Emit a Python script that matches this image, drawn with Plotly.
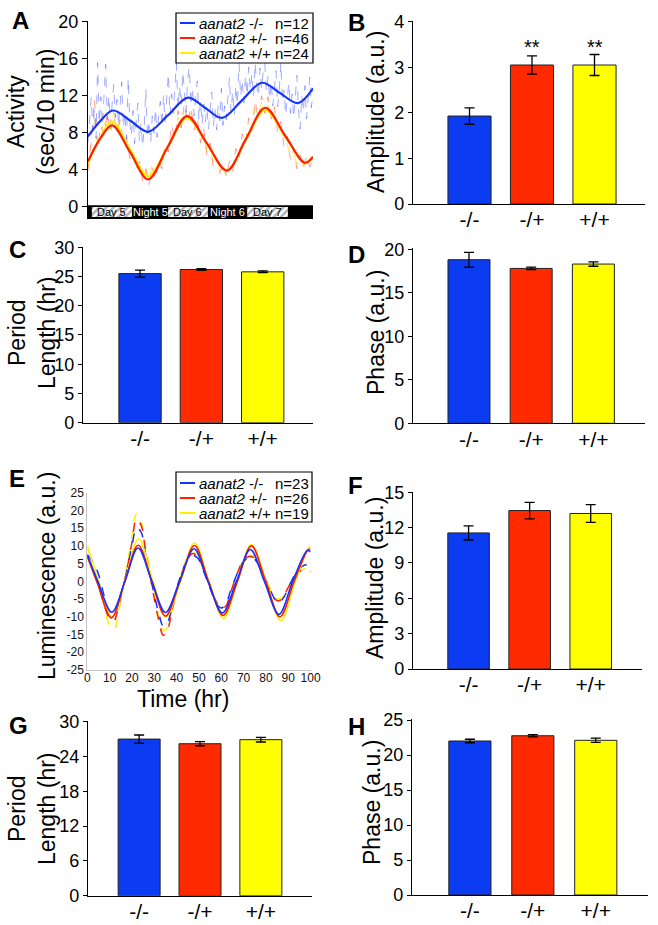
import plotly.graph_objects as go

W, H = 658, 925
FONT = "Liberation Sans, Arial, Helvetica, sans-serif"

# ---------------- Panel A: locomotor activity ----------------
a_fit_blue_t = [0, 3.9, 7.8, 13.2, 18.7, 24.9, 31.1, 36.4, 41.7, 47.9, 54.1, 59.7, 65.3, 70]
a_fit_blue_v = [7.6, 9.3, 10.4, 9.3, 8.1, 9.9, 11.8, 10.7, 9.6, 11.5, 13.4, 12.3, 11.2, 12.8]
a_fit_red_t = [0, 3.7, 7.5, 13.1, 18.7, 24.7, 30.8, 37.0, 43.2, 49.1, 55.1, 61.3, 67.5, 70]
a_fit_red_v = [4.9, 7.3, 8.8, 5.9, 2.95, 6.4, 9.8, 6.85, 3.9, 7.3, 10.7, 7.7, 4.75, 5.4]
a_fit_yel_t = [0, 3.7, 7.5, 13.1, 18.7, 24.7, 30.8, 37.0, 43.2, 49.1, 55.1, 61.3, 67.5, 70]
a_fit_yel_v = [4.7, 7.4, 9.2, 6.2, 3.3, 6.4, 9.6, 6.8, 3.9, 7.2, 10.5, 7.6, 4.8, 5.3]

a_raw_blue = [7.0, 9.5, 11.8, 8.2, 10.5, 7.4, 15.6, 9.0, 11.9, 8.8, 12.6, 15.4, 9.4, 12.0, 8.9, 11.3,
              13.2, 9.6, 11.6, 8.7, 10.9, 13.5, 8.5, 10.2, 7.3, 13.9, 9.1, 7.6, 10.4, 6.8, 9.2, 11.2,
              7.1, 9.0, 6.5, 8.7, 12.7, 7.4, 9.3, 6.9, 9.8, 8.0, 10.6, 7.5, 9.9, 11.4, 8.6, 12.1,
              9.2, 11.6, 14.4, 9.9, 12.2, 10.1, 13.3, 15.5, 10.6, 13.1, 11.0, 14.6, 12.3, 10.2, 13.8, 15.1,
              10.9, 12.9, 9.8, 12.1, 13.6, 9.4, 11.5, 8.9, 11.1, 9.2, 10.7, 8.4, 10.3, 12.4, 8.7, 10.6,
              8.3, 11.0, 9.3, 12.8, 8.8, 10.9, 9.4, 11.7, 14.0, 10.2, 12.5, 9.9, 13.1, 11.0, 15.5, 11.9,
              13.7, 11.2, 14.2, 12.0, 15.1, 12.6, 14.4, 11.8, 15.6, 13.2, 11.9, 15.0, 12.7, 14.6, 15.5, 12.4,
              14.1, 11.6, 13.5, 10.9, 12.9, 14.7, 10.8, 12.5, 15.6, 11.3, 12.6, 9.9, 11.8, 13.4, 10.1, 12.2,
              9.6, 11.5, 14.2, 10.4, 8.4, 12.0, 10.3, 13.1, 9.5, 11.8, 14.0, 10.7, 12.5]
a_raw_red = [3.9, 7.2, 11.6, 6.4, 8.8, 7.7, 10.1, 8.0, 9.9, 8.1, 9.4, 6.8, 7.5, 5.2, 6.0, 4.0, 4.9, 2.8,
             4.1, 2.4, 4.2, 3.0, 5.2, 4.1, 6.8, 5.9, 8.9, 7.3, 10.4, 8.5, 11.2, 9.0, 10.8, 8.3, 9.7, 6.9,
             8.4, 5.6, 6.9, 4.2, 5.3, 3.6, 4.8, 3.2, 4.9, 3.8, 6.3, 5.2, 7.9, 6.8, 9.6, 8.2, 11.5, 9.4,
             12.0, 10.1, 11.9, 9.5, 10.8, 8.1, 9.2, 6.4, 7.6, 5.0, 6.3, 4.1, 5.6, 4.2, 5.5, 4.3, 5.0]
a_raw_yel = [4.2, 6.5, 9.7, 7.0, 8.2, 8.9, 9.6, 8.4, 10.2, 8.6, 9.1, 7.3, 6.9, 5.8, 5.6, 4.3, 4.5, 3.4,
             3.8, 2.9, 4.6, 3.5, 4.8, 4.6, 6.1, 6.5, 8.0, 7.6, 9.7, 8.6, 10.5, 9.2, 10.1, 8.7, 9.0, 7.2,
             7.9, 5.9, 6.2, 4.7, 4.9, 3.8, 4.4, 3.5, 4.7, 4.3, 5.8, 5.6, 7.2, 7.1, 8.9, 8.6, 10.6, 9.9,
             11.3, 10.4, 11.0, 9.8, 10.0, 8.5, 8.4, 6.9, 6.8, 5.5, 5.7, 4.6, 5.1, 4.4, 4.9, 4.6, 4.8]
a_t_half = [i * 0.5 for i in range(len(a_raw_blue))]
a_t_hour = [float(i) for i in range(len(a_raw_red))]

a_phase_names = ["Day 5", "Night 5", "Day 6", "Night 6", "Day 7"]
a_phase_start = [1.2, 13.7, 24.9, 37.3, 49.5]
a_phase_end = [13.7, 24.9, 37.3, 49.5, 62.2]
a_legend_names = ["<i>aanat2</i> -/-", "<i>aanat2</i> +/-", "<i>aanat2</i> +/+"]
a_legend_n = ["n=12", "n=46", "n=24"]

# ---------------- Bar panels ----------------
genotypes = ["-/-", "-/+", "+/+"]
b_amp = [1.93, 3.05, 3.05]
b_err = [0.18, 0.20, 0.23]
b_sig = ["", "**", "**"]
c_period = [25.5, 26.2, 25.8]
c_err = [0.6, 0.15, 0.15]
d_phase = [18.8, 17.8, 18.3]
d_err = [0.85, 0.15, 0.25]
f_amp = [11.55, 13.45, 13.2]
f_err = [0.6, 0.7, 0.75]
g_period = [27.0, 26.2, 26.9]
g_err = [0.7, 0.35, 0.4]
h_phase = [22.0, 22.75, 22.1]
h_err = [0.25, 0.15, 0.3]

# ---------------- Panel E: luminescence ----------------
e_blue_fit_t = [0, 4.7, 11, 17, 22.7, 28.8, 35, 41.3, 47.8, 54, 60.5, 66.8, 73, 79.3, 85.8, 92, 98.5, 100]
e_blue_fit_v = [7.5, 0, -8.7, 0.3, 9.4, 0.2, -8.8, 0, 9.2, 0, -8.9, 0, 9.0, 0, -9.3, 0, 8.7, 8.3]
e_red_fit_t = [0, 4.5, 10.8, 16.8, 22.8, 28.9, 35.0, 41.5, 48.0, 54.3, 60.8, 67.2, 73.5, 79.9, 86.3, 92.6, 99.0, 100]
e_red_fit_v = [7.0, -0.5, -10.3, 0, 10.2, 0, -9.8, 0, 10.1, 0, -9.6, 0, 10.0, 0, -10.0, 0, 9.0, 8.9]
e_yel_fit_t = [0, 4.8, 11.0, 17.0, 23.0, 29.2, 35.3, 41.7, 48.0, 54.5, 61.0, 67.3, 73.5, 80.1, 86.7, 93.1, 99.5, 100]
e_yel_fit_v = [10.0, 0.5, -10.0, 0.5, 12.0, 0.5, -10.0, 0, 10.8, 0, -10.4, 0, 10.3, 0, -11.1, 0, 9.8, 9.8]
e_raw_t = [0, 2.5, 5, 7.5, 10, 12, 14, 17, 20, 22, 24, 26, 29, 32, 34, 36, 38, 41, 44, 47,
           49.5, 52, 55, 58, 60, 62, 64, 67, 70, 72.5, 75, 78, 81, 84, 86, 88, 91, 94, 97, 100]
e_blue_raw = [7.5, 5.5, 2.0, -4.0, -9.2, -9.5, -6.0, 1.0, 10.0, 15.0, 14.0, 8.0, -1.0, -9.0, -12.6, -11.5,
              -7.0, 0.0, 5.0, 7.3, 6.5, 3.0, -2.0, -6.5, -7.5, -6.5, -3.0, 2.0, 5.5, 6.8, 6.2, 3.0,
              -1.0, -5.0, -6.0, -4.5, -0.5, 3.0, 4.5, 5.0]
e_red_raw = [7.0, 3.5, -1.0, -6.5, -10.5, -11.0, -7.0, 1.0, 11.0, 17.5, 16.0, 9.0, -1.5, -11.0, -15.2, -13.5,
             -8.0, -0.5, 5.0, 7.8, 7.0, 3.5, -1.5, -6.0, -7.5, -7.0, -3.5, 2.0, 6.0, 7.0, 6.5, 3.0,
             -1.5, -5.0, -5.5, -4.0, -0.5, 2.5, 3.2, 2.8]
e_yel_raw = [9.8, 5.0, 0.5, -6.5, -12.5, -13.5, -8.5, 1.5, 12.5, 19.0, 17.0, 10.0, -0.5, -10.0, -13.8, -13.0,
             -8.0, -0.5, 5.5, 8.2, 7.5, 4.0, -1.0, -6.0, -7.8, -7.5, -4.0, 1.5, 6.0, 7.3, 6.8, 3.5,
             -1.0, -4.5, -5.0, -4.0, -0.5, 2.5, 3.5, 3.3]
e_ytick_vals = [-25, -20, -15, -10, -5, 0, 5, 10, 15, 20, 25]
e_ytick_text = ["-25", "-20", "-15", "-10", "-5", "0", "5", "10", "15", "20", "25"]
e_legend_names = ["<i>aanat2</i> -/-", "<i>aanat2</i> +/-", "<i>aanat2</i> +/+"]
e_legend_n = ["n=23", "n=26", "n=19"]

# ---------------- styling ----------------
BLUE_BAR, RED_BAR, YEL_BAR = "#0b3cf2", "#ff2a00", "#ffff00"
bar_colors = [BLUE_BAR, RED_BAR, YEL_BAR]
BLUE_L, RED_L, YEL_L = "#1533ff", "#ff1e00", "#ffee00"
line_colors = [BLUE_L, RED_L, YEL_L]


def px(x):
    return x / W


def py(y):
    return 1 - y / H


def xdom(a, b):
    return [a / W, b / W]


def ydom(top, bottom):
    return [1 - bottom / H, 1 - top / H]


fig = go.Figure()
layout = {}
shapes = []
annotations = []

# ---- Panel A traces ----
for t, v, c in [(a_t_hour, a_raw_yel, "rgba(255,225,0,0.65)"),
                (a_t_hour, a_raw_red, "rgba(255,70,50,0.5)"),
                (a_t_half, a_raw_blue, "rgba(70,90,255,0.5)")]:
    fig.add_trace(go.Scatter(x=t, y=v, mode="lines", xaxis="x", yaxis="y",
                             line=dict(color=c, width=1, dash="dash")))
for t, v, c in [(a_fit_yel_t, a_fit_yel_v, YEL_L), (a_fit_red_t, a_fit_red_v, RED_L),
                (a_fit_blue_t, a_fit_blue_v, BLUE_L)]:
    fig.add_trace(go.Scatter(x=t, y=v, mode="lines", xaxis="x", yaxis="y",
                             line=dict(color=c, width=2.2, shape="spline", smoothing=1.0)))

shapes.append(dict(type="rect", xref="x", yref="y", x0=0, x1=70, y0=-1.33, y1=0.15,
                   fillcolor="black", line=dict(width=0), layer="below"))
day_idx = [i for i, n in enumerate(a_phase_names) if n.startswith("Day")]
fig.add_trace(go.Bar(
    x=[(a_phase_start[i] + a_phase_end[i]) / 2 for i in day_idx],
    y=[1.08] * len(day_idx), base=-1.12,
    width=[a_phase_end[i] - a_phase_start[i] for i in day_idx],
    marker=dict(color="white", line=dict(width=0),
                pattern=dict(shape="/", fgcolor="#666666", bgcolor="white", size=5, solidity=0.5)),
    xaxis="x", yaxis="y"))
for i, n in enumerate(a_phase_names):
    annotations.append(dict(xref="x", yref="y", x=(a_phase_start[i] + a_phase_end[i]) / 2, y=-0.58,
                            text=n, showarrow=False,
                            font=dict(size=11, color="black" if n.startswith("Day") else "white", family=FONT)))

layout["xaxis"] = dict(domain=xdom(88, 313), range=[0, 70], anchor="y", showline=False, showticklabels=False,
                       ticks="", showgrid=False, zeroline=False, automargin=False)
layout["yaxis"] = dict(domain=ydom(20.8, 219.2), range=[-1.35, 20.1], anchor="x", showline=True,
                       linecolor="black", linewidth=1.3, ticks="outside", ticklen=5, tickwidth=1.3,
                       tickcolor="black", tickvals=[0, 4, 8, 12, 16, 20], automargin=False,
                       tickfont=dict(size=18, color="black"), showgrid=False, zeroline=False)


def legend_box(x0, x1, top, bottom, rows, names, ns):
    shapes.append(dict(type="rect", xref="paper", yref="paper", x0=px(x0), x1=px(x1), y0=py(bottom), y1=py(top),
                       fillcolor="white", line=dict(color="black", width=1.2), layer="above"))
    for r, nm, n, c in zip(rows, names, ns, line_colors):
        shapes.append(dict(type="line", xref="paper", yref="paper", x0=px(x0 + 4), x1=px(x0 + 19),
                           y0=py(r), y1=py(r), line=dict(color=c, width=2), layer="above"))
        annotations.append(dict(xref="paper", yref="paper", x=px(x0 + 22), y=py(r), xanchor="left",
                                yanchor="middle", text=nm, showarrow=False, height=14, borderpad=0,
                                font=dict(size=15, color="black", family=FONT)))
        annotations.append(dict(xref="paper", yref="paper", x=px(x0 + 98), y=py(r), xanchor="left",
                                yanchor="middle", text=n, showarrow=False, height=14, borderpad=0,
                                font=dict(size=15, color="black", family=FONT)))


legend_box(176, 313, 13, 63, [23, 38, 53], a_legend_names, a_legend_n)

# ---- Panel E traces ----
for t, v, c in [(e_raw_t, e_yel_raw, YEL_L), (e_raw_t, e_red_raw, RED_L), (e_raw_t, e_blue_raw, BLUE_L)]:
    fig.add_trace(go.Scatter(x=t, y=v, mode="lines", xaxis="x5", yaxis="y5",
                             line=dict(color=c, width=1.5, dash="dash", shape="spline", smoothing=1.0)))
for t, v, c in [(e_yel_fit_t, e_yel_fit_v, YEL_L), (e_red_fit_t, e_red_fit_v, RED_L),
                (e_blue_fit_t, e_blue_fit_v, BLUE_L)]:
    fig.add_trace(go.Scatter(x=t, y=v, mode="lines", xaxis="x5", yaxis="y5",
                             line=dict(color=c, width=1.6, shape="spline", smoothing=1.0)))
layout["xaxis5"] = dict(domain=xdom(87.3, 310.6), range=[0, 100], anchor="y5", showline=True,
                        linecolor="#c4c4c4", linewidth=1, ticks="", dtick=10, tick0=0, automargin=False,
                        ticklabelstandoff=-3,
                        tickfont=dict(size=12, color="#111"), showgrid=False, zeroline=False)
layout["yaxis5"] = dict(domain=ydom(492.7, 670), range=[-25, 25], anchor="x5", showline=True,
                        linecolor="#c4c4c4", linewidth=1, ticks="", tickvals=e_ytick_vals, automargin=False,
                        ticktext=e_ytick_text, tickfont=dict(size=12, color="#111"),
                        showgrid=False, zeroline=False)
legend_box(176, 312, 472, 522, [483, 498, 513], e_legend_names, e_legend_n)


def bar_panel(n, vals, errs, xr, yr, tvals, xd, yd, width):
    fig.add_trace(go.Bar(x=genotypes, y=vals, width=width, xaxis=f"x{n}", yaxis=f"y{n}",
                         marker=dict(color=bar_colors, line=dict(color="#222", width=1)),
                         error_y=dict(type="data", array=errs, visible=True, color="black",
                                      thickness=1.3, width=5)))
    layout[f"xaxis{n}"] = dict(domain=xd, range=xr, anchor=f"y{n}", type="category", showline=True,
                               linecolor="black", linewidth=1.3, ticks="", automargin=False,
                               ticklabelstandoff=-3,
                               tickfont=dict(size=21, color="black"), showgrid=False, zeroline=False)
    layout[f"yaxis{n}"] = dict(domain=yd, range=yr, anchor=f"x{n}", showline=True, linecolor="black",
                               linewidth=1.3, ticks="outside", ticklen=4, tickwidth=1.3, tickcolor="black",
                               tickvals=tvals, tickfont=dict(size=18, color="black"), automargin=False,
                               showgrid=False, zeroline=False)


bar_panel(2, b_amp, b_err, [-0.904, 2.808], [0, 4.02], [0, 1, 2, 3, 4], xdom(413, 645), ydom(20.8, 204), 0.69)
bar_panel(3, c_period, c_err, [-0.93, 2.82], [0, 30.1], [0, 5, 10, 15, 20, 25, 30], xdom(83, 313),
          ydom(246.7, 422.7), 0.69)
bar_panel(4, d_phase, d_err, [-0.90, 2.83], [0, 20.1], [0, 5, 10, 15, 20], xdom(413, 645),
          ydom(248.4, 423.3), 0.675)
bar_panel(6, f_amp, f_err, [-0.91, 2.84], [0, 15.05], [0, 3, 6, 9, 12, 15], xdom(413, 642),
          ydom(491.7, 669), 0.68)
bar_panel(7, g_period, g_err, [-0.84, 2.84], [0, 30.1], [0, 6, 12, 18, 24, 30], xdom(88, 312),
          ydom(721.1, 895.7), 0.69)
bar_panel(8, h_phase, h_err, [-0.92, 2.83], [0, 25.1], [0, 5, 10, 15, 20, 25], xdom(412, 648),
          ydom(719.3, 895), 0.67)

for i, s in enumerate(b_sig):
    if s:
        annotations.append(dict(xref="x2", yref="y2", x=i, y=3.45, text=s, showarrow=False,
                                font=dict(size=20, color="black", family=FONT)))


def vtitle(x, y, text, size=23):
    annotations.append(dict(xref="paper", yref="paper", x=px(x), y=py(y), text=text, textangle=-90,
                            showarrow=False, xanchor="center", yanchor="middle",
                            font=dict(size=size, color="black", family=FONT)))


vtitle(31, 112, "Activity<br>(sec/10 min)")
vtitle(376, 112, "Amplitude (a.u.)")
vtitle(32, 333, "Period<br>Length (hr)")
vtitle(376, 333, "Phase (a.u.)")
vtitle(47, 576, "Luminescence (a.u.)")
vtitle(375, 578, "Amplitude (a.u.)")
vtitle(32, 809, "Period<br>Length (hr)")
vtitle(372, 803, "Phase (a.u.)")
annotations.append(dict(xref="paper", yref="paper", x=px(183), y=py(699), text="Time (hr)", showarrow=False,
                        xanchor="center", yanchor="middle", font=dict(size=23, color="black", family=FONT)))

for letter, x, y in [("A", 20, 20), ("B", 356, 23), ("C", 17, 249), ("D", 357, 254),
                     ("E", 17, 478), ("F", 355, 486), ("G", 18, 725), ("H", 357, 726)]:
    annotations.append(dict(xref="paper", yref="paper", x=px(x), y=py(y), text=f"<b>{letter}</b>",
                            showarrow=False, xanchor="center", yanchor="middle",
                            font=dict(size=24, color="black", family=FONT)))

fig.update_layout(
    width=W, height=H, margin=dict(l=0, r=0, t=0, b=0, pad=0, autoexpand=False),
    paper_bgcolor="white", plot_bgcolor="white", showlegend=False,
    font=dict(family=FONT, color="black"), barmode="overlay",
    shapes=shapes, annotations=annotations, **layout)

fig.write_html("out.html", config={"displayModeBar": False},
               post_script="document.body.style.margin='0px';")
